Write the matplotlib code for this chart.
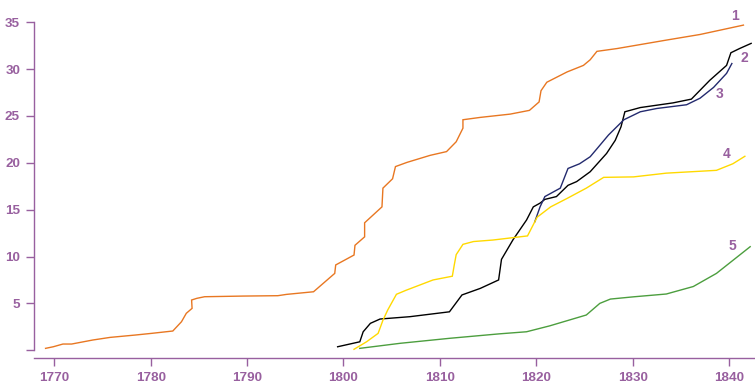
import matplotlib
matplotlib.use("Agg")
import matplotlib.pyplot as plt

PURPLE = "#98609f"

# series 1 (orange)
yr1 = [1769.1, 1769.9, 1770.9, 1771.8, 1774.0, 1775.8, 1778.4, 1780.1, 1782.3, 1783.2,
       1783.7, 1784.3, 1784.25, 1784.8, 1785.6, 1789.6, 1793.2, 1794.1, 1796.9, 1799.1,
       1799.2, 1801.1, 1801.2, 1802.2, 1802.2, 1804.0, 1804.1, 1805.1, 1805.4, 1806.6,
       1809.0, 1810.7, 1811.7, 1812.4, 1812.4, 1814.2, 1817.3, 1819.3, 1820.3, 1820.5,
       1821.1, 1823.2, 1824.9, 1825.6, 1826.3, 1828.4, 1833.5, 1837.0, 1841.5]
v1 = [0.2, 0.37, 0.66, 0.66, 1.09, 1.37, 1.62, 1.8, 2.05, 3.04,
      3.94, 4.47, 5.36, 5.54, 5.71, 5.78, 5.82, 5.96, 6.24, 8.2,
      9.1, 10.16, 11.2, 12.1, 13.6, 15.3, 17.3, 18.3, 19.6, 20.05,
      20.8, 21.2, 22.25, 23.7, 24.6, 24.85, 25.2, 25.6, 26.5, 27.7,
      28.6, 29.7, 30.4, 31.0, 31.9, 32.2, 33.1, 33.7, 34.7]

# series 2 (black)
yr2 = [1799.4, 1801.7, 1802.05, 1802.8, 1803.8, 1806.9, 1811.0, 1812.3, 1814.2, 1816.1,
       1816.4, 1817.6, 1819.0, 1819.7, 1820.4, 1820.9, 1822.1, 1823.3, 1824.2, 1825.6,
       1827.3, 1828.2, 1828.8, 1829.2, 1830.8, 1834.2, 1836.1, 1838.0, 1839.75, 1840.2,
       1841.1, 1842.3]
v2 = [0.37, 0.9, 1.97, 2.87, 3.33, 3.58, 4.1, 5.9, 6.6, 7.5,
      9.7, 11.8, 13.9, 15.3, 15.7, 16.1, 16.4, 17.6, 18.0, 19.05,
      21.0, 22.4, 23.85, 25.45, 25.9, 26.4, 26.8, 28.8, 30.4, 31.75,
      32.2, 32.75]

# series 3 (navy)
yr3 = [1819.85, 1820.4, 1820.9, 1822.5, 1823.3, 1824.5, 1825.6, 1826.3, 1827.5, 1829.1,
       1830.8, 1832.5, 1835.6, 1837.0, 1838.4, 1839.75, 1840.3]
v3 = [13.7, 15.3, 16.4, 17.3, 19.4, 19.9, 20.65, 21.5, 22.97, 24.6,
      25.45, 25.8, 26.2, 26.9, 28.05, 29.55, 30.6]

# series 4 (yellow)
yr4 = [1801.1, 1802.4, 1803.6, 1804.1, 1804.6, 1805.5, 1806.5, 1809.3, 1811.3, 1811.5,
       1811.7, 1812.4, 1813.5, 1815.5, 1819.1, 1820.1, 1821.5, 1823.2, 1825.2, 1827.0,
       1830.1, 1833.5, 1838.7, 1840.4, 1841.65]
v4 = [0.1, 0.9, 1.8, 3.2, 4.3, 5.97, 6.4, 7.5, 7.9, 9.1,
      10.2, 11.3, 11.6, 11.76, 12.2, 14.2, 15.3, 16.2, 17.3, 18.45,
      18.5, 18.9, 19.2, 19.9, 20.7]

# series 5 (green)
yr5 = [1801.7, 1805.9, 1811.0, 1816.2, 1819.0, 1821.4, 1825.2, 1826.6, 1827.7, 1830.1,
       1833.5, 1836.3, 1838.7, 1842.2]
v5 = [0.2, 0.74, 1.27, 1.75, 1.97, 2.6, 3.76, 5.0, 5.46, 5.7,
      6.0, 6.8, 8.2, 11.05]

labels = ["1", "2", "3", "4", "5"]
label_pos = [(1840.6, 35.7), (1841.6, 31.2), (1839.0, 27.4), (1839.8, 20.9), (1840.4, 11.1)]

x_ticks = [1770, 1780, 1790, 1800, 1810, 1820, 1830, 1840]
y_ticks = [0, 5, 10, 15, 20, 25, 30, 35]
y_ticklabels = ["", "5", "10", "15", "20", "25", "30", "35"]

plt.rcParams["font.family"] = ["Liberation Sans", "DejaVu Sans"]

fig = plt.figure(figsize=(7.55, 3.9), dpi=100)
ax = fig.add_axes([34 / 755, 32 / 390, 721 / 755, 335.7 / 390])

series = [(yr1, v1, "#e87722"), (yr2, v2, "#000000"), (yr3, v3, "#232a6e"),
          (yr4, v4, "#ffd900"), (yr5, v5, "#4c9e3e")]
for xs, ys, c in series:
    ax.plot(xs, ys, color=c, lw=1.0, solid_joinstyle="miter")

for lab, (lx, ly) in zip(labels, label_pos):
    ax.text(lx, ly, lab, color=PURPLE, fontsize=10, fontweight="bold",
            ha="center", va="center")

ax.set_xlim(1767.9, 1842.7)
ax.set_ylim(-0.83, 35.0)
ax.set_xticks(x_ticks)
ax.set_yticks(y_ticks)
ax.set_yticklabels(y_ticklabels)

for s in ["top", "right"]:
    ax.spines[s].set_visible(False)
ax.spines["left"].set_bounds(0, 35)
for s in ["left", "bottom"]:
    ax.spines[s].set_color(PURPLE)
    ax.spines[s].set_linewidth(1.0)
ax.tick_params(colors=PURPLE, length=6, width=1.0, pad=4, labelsize=9.7)
for t in ax.get_xticklabels() + ax.get_yticklabels():
    t.set_fontweight("bold")

fig.savefig("out.png", dpi=100)
